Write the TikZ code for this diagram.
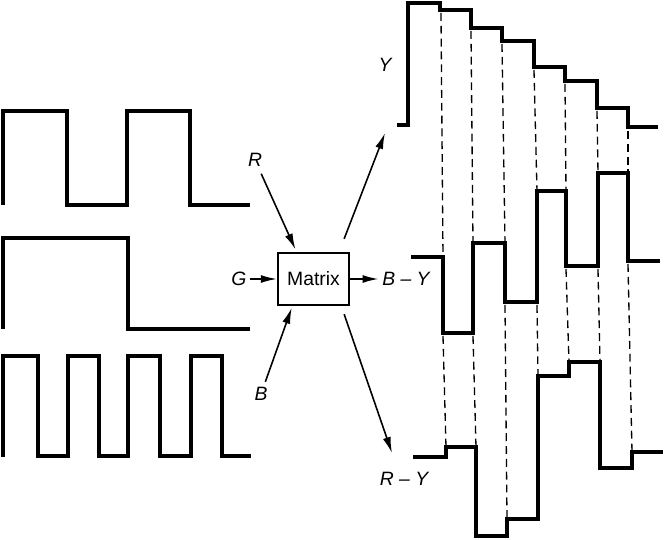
\documentclass[tikz,border=0pt]{standalone}
\usepackage{fontspec}
\setmainfont{Liberation Sans}
\usetikzlibrary{arrows.meta}

\begin{document}
\begin{tikzpicture}[x=0.02cm,y=-0.02cm,
  wave/.style={line width=2.2pt,line join=miter},
  guide/.style={line width=0.75pt,dash pattern=on 4.5pt off 2.8pt},
  lbl/.style={font=\fontsize{11}{13}\selectfont\itshape,inner sep=2pt},
  mbox/.style={draw,line width=1.3pt,minimum width=1.42cm,minimum height=1.04cm,
               font=\fontsize{11}{13}\selectfont},
  arr/.style={-{Latex[length=3.2mm,width=1.6mm]},line width=0.9pt}]
  \useasboundingbox (0,0) rectangle (664,540);
  % input signals R, G, B
  \draw[wave](3,205)--(3,111)--(67,111)--(67,205)--(127,205)--(127,111)--(190,111)--(190,205)--(250,205);
  \draw[wave](3,329)--(3,238)--(128,238)--(128,329)--(250,329);
  \draw[wave](3,457)--(3,356)--(38,356)--(38,456)--(68,456)--(68,356)--(99,356)--(99,456)
    --(128,456)--(128,356)--(160,356)--(160,456)--(191,456)--(191,356)--(222,356)--(222,456)--(251,456);
  % output signals Y, B-Y, R-Y
  \draw[wave](397,125)--(408,125)--(408,3)--(440,3)--(440,10)--(471,10)--(471,28)--(502,28)--(502,41)
    --(534,41)--(534,67)--(565,67)--(565,81)--(597,81)--(597,108)--(628,108)--(628,127)--(658,127);
  \draw[wave](411,257)--(443,257)--(443,333)--(473,333)--(473,243)--(505,243)--(505,302)--(537,302)
    --(537,191)--(566,191)--(566,266)--(598,266)--(598,173)--(628,173)--(628,261)--(660,261);
  \draw[wave](413,457)--(446,457)--(446,447)--(476,447)--(476,536)--(507,536)--(507,519)--(538,519)
    --(538,376)--(569,376)--(569,362)--(600,362)--(600,468)--(632,468)--(632,452)--(663,452);
  % bar edges
  \foreach \xa/\ya/\xb/\yb in {441/13/443/257,471/31/473/243,502/44/505/243,534/70/537/191,
      565/84/566/191,597/111/598/173,628/131/628/173,
      443/336/446/447,473/336/476/447,505/305/507/519,537/305/538/376,
      566/269/569/362,598/269/600/362,628/264/632/452}
    \draw[guide](\xa,\ya)--(\xb,\yb);
  % matrix
  \node[mbox](M) at (313.5,279) {Matrix};
  \node[lbl](R) at (255,160) {R};
  \node[lbl](G) at (239,279) {G};
  \node[lbl](B) at (261,394) {B};
  \node[lbl](Y) at (385,65) {Y};
  \node[lbl](BY) at (406,279) {B – Y};
  \node[lbl](RY) at (404,479) {R – Y};
  \coordinate (Ytip) at (385,133);
  \coordinate (RYtip) at (392,453);
  \draw[arr,shorten <=2pt,shorten >=1.5pt](R)--(M.122);
  \draw[arr](G)--(M);
  \draw[arr,shorten <=1pt,shorten >=1pt](B)--(M.232);
  \draw[arr](M)--(BY);
  \draw[arr]([shift={(-6,-13)}]M.north east)--(Ytip);
  \draw[arr]([shift={(-6,8)}]M.south east)--(RYtip);
\end{tikzpicture}
\end{document}
